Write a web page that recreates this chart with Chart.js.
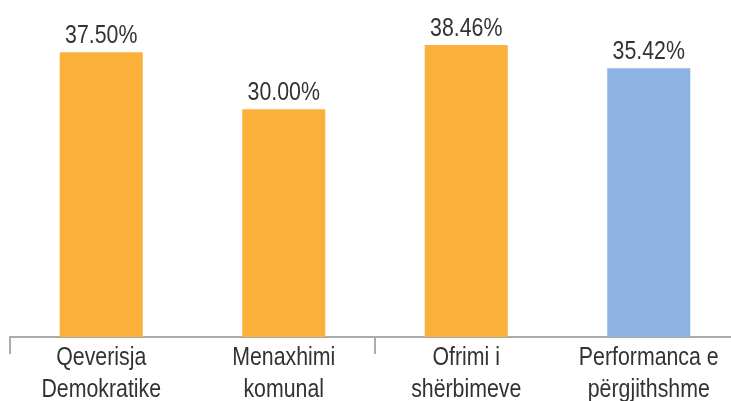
<!DOCTYPE html>
<html>
<head>
<meta charset="utf-8">
<script src="https://cdn.jsdelivr.net/npm/chart.js@4/dist/chart.umd.min.js"></script>
<style>
  html, body { margin: 0; padding: 0; overflow: hidden; background: #fff; }
  #wrap { width: 740px; height: 401px; }
</style>
</head>
<body>
<div id="wrap"><canvas id="chart" width="740" height="401"></canvas></div>
<script>
// data
const categories = [
    ["Qeverisja", "Demokratike"],
    ["Menaxhimi", "komunal"],
    ["Ofrimi i", "shërbimeve"],
    ["Performanca e", "përgjithshme"],
];
const values = [37.50, 30.00, 38.46, 35.42];
const barColors = ["#FBB03B", "#FBB03B", "#FBB03B", "#8DB3E2"];

// Arial Narrow look: Liberation Sans squeezed horizontally
const FONT = "'Liberation Sans', Arial, sans-serif";
const NARROW = 0.82;
const TEXT = "#333333";
const AXIS = "#ABABAB";

function narrowText(ctx, text, x, y) {
    ctx.save();
    ctx.translate(x, y);
    ctx.scale(NARROW, 1);
    ctx.fillText(text, 0, 0);
    ctx.restore();
}

// value labels above the bars + category labels under the axis
const textLabels = {
    id: "textLabels",
    afterDatasetsDraw(chart) {
        const ctx = chart.ctx;
        const meta = chart.getDatasetMeta(0);
        const xScale = chart.scales.x;
        ctx.save();
        ctx.font = "26px " + FONT;
        ctx.fillStyle = TEXT;
        ctx.textAlign = "center";
        ctx.textBaseline = "alphabetic";
        meta.data.forEach((bar, i) => {
            narrowText(ctx, values[i].toFixed(2) + "%", bar.x, bar.y - 9);
        });
        categories.forEach((lines, i) => {
            const x = xScale.getPixelForValue(i);
            lines.forEach((line, j) => {
                narrowText(ctx, line, x, xScale.top + 28 + j * 32);
            });
        });
        ctx.restore();
    },
};

new Chart(document.getElementById("chart"), {
    type: "bar",
    data: {
        labels: categories,
        datasets: [{
            data: values,
            backgroundColor: barColors,
            borderWidth: 0,
            categoryPercentage: 1,
            barPercentage: 0.455,
        }],
    },
    options: {
        responsive: false,
        animation: false,
        layout: { padding: { left: 10, right: 0, top: 3, bottom: 0 } },
        plugins: {
            legend: { display: false },
            tooltip: { enabled: false },
        },
        scales: {
            x: {
                grid: {
                    offset: true,
                    drawOnChartArea: false,
                    tickLength: 17,
                    lineWidth: 2,
                    color: (c) => (c.index % 2 === 0 ? AXIS : "rgba(0,0,0,0)"),
                },
                border: { display: true, color: AXIS, width: 2 },
                ticks: { display: false },
                afterFit: (s) => { s.height = 64; },
            },
            y: {
                display: false,
                min: 0,
                max: 44,
            },
        },
    },
    plugins: [textLabels],
});
</script>
</body>
</html>
